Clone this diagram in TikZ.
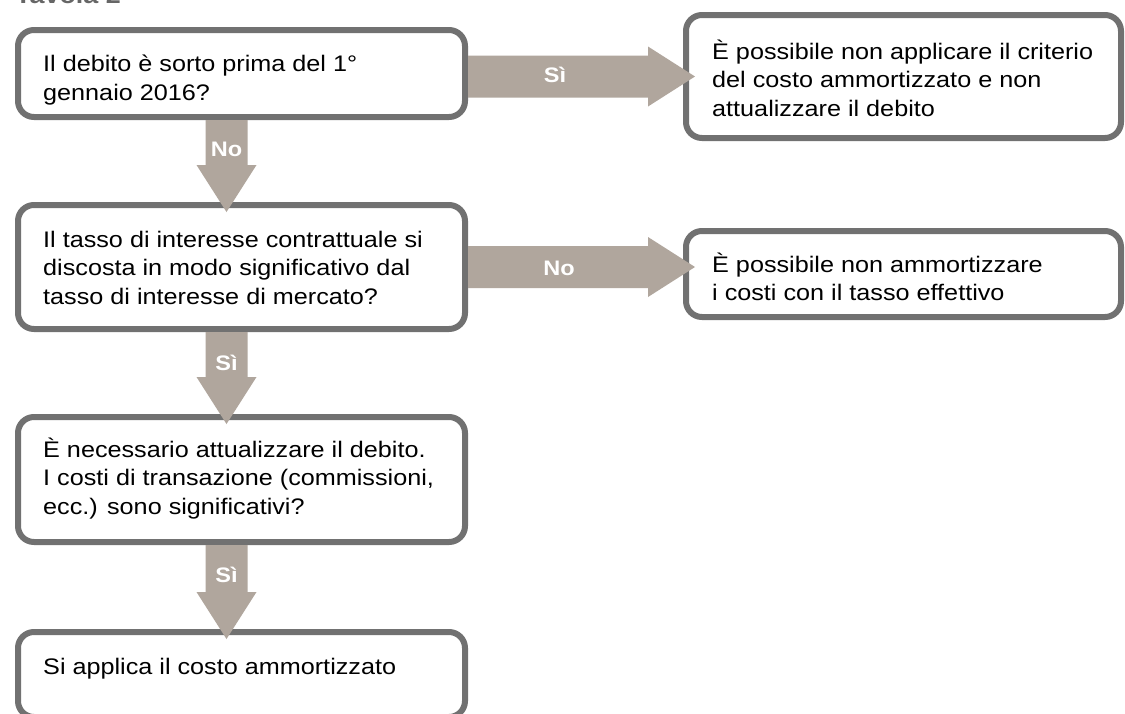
\documentclass[tikz,border=0pt]{standalone}
\usepackage{fontspec}
\setmainfont{Liberation Sans}[FakeStretch=1.12]
\usetikzlibrary{calc}

\definecolor{framegray}{HTML}{717171}
\definecolor{arrowtaupe}{HTML}{B0A69D}
\definecolor{titlegray}{HTML}{666666}

\tikzset{
  box/.style={draw=framegray, line width=6pt, rounded corners=16pt, fill=white,
    inner sep=0pt, minimum width=447pt},
  % texts are placed by the baseline of their last line
  boxtext/.style={anchor=base west, inner sep=0pt, align=left, text=black,
    font=\fontsize{22.5}{28.5}\selectfont},
  flowlabel/.style={anchor=base, inner sep=0pt, text=white,
    font=\bfseries\fontsize{21}{24}\selectfont},
  blockfill/.style={fill=arrowtaupe},
}

% broad downward arrow: from (#1) to the tip (#2)
\newcommand{\vblockarrow}[2]{%
  \fill[blockfill] let \p1=(#1), \p2=(#2) in
    (\x1-21pt,\y1) -- (\x1-21pt,\y2+47pt) -- (\x1-30pt,\y2+47pt) -- (\x1,\y2)
    -- (\x1+30pt,\y2+47pt) -- (\x1+21pt,\y2+47pt) -- (\x1+21pt,\y1) -- cycle;}
% broad rightward arrow: from (#1) to the tip (#2)
\newcommand{\hblockarrow}[2]{%
  \fill[blockfill] let \p1=(#1), \p2=(#2) in
    (\x1,\y1+21pt) -- (\x2-47pt,\y1+21pt) -- (\x2-47pt,\y1+30pt) -- (\x2,\y1)
    -- (\x2-47pt,\y1-30pt) -- (\x2-47pt,\y1-21pt) -- (\x1,\y1-21pt) -- cycle;}

\begin{document}
\begin{tikzpicture}[x=1pt, y=-1pt]
  \clip (0,0) rectangle (1125,713);
  \fill[white] (0,0) rectangle (1125,713);

  \node[anchor=base west, inner sep=0pt, text=titlegray,
        font=\bfseries\fontsize{24}{28}\selectfont] (title) at (15,3.5) {Tavola 2};

  % boxes of the left column
  \node[box, minimum height=87pt]  (b1) at (241.5,73.5) {};
  \node[box, minimum height=124pt] (b2) at (241.5,267) {};
  \node[box, minimum height=125pt] (b3) at (241.5,479.5) {};
  \node[box, minimum height=85pt]  (b4) at (241.5,674.5) {};
  % boxes on the right
  \node[box, minimum width=435pt, minimum height=123pt] (r1) at (903.5,76.5) {};
  \node[box, minimum width=435pt, minimum height=86pt]  (r2) at (903.5,274) {};

  % texts
  \node[boxtext] (t1) at (43,100)   {Il debito è sorto prima del 1°\\gennaio 2016?};
  \node[boxtext] (t2) at (43,304)   {Il tasso di interesse contrattuale si\\discosta in modo significativo dal\\tasso di interesse di mercato?};
  \node[boxtext] (t3) at (43,514)   {È necessario attualizzare il debito.\\I costi di transazione (commissioni,\\ecc.) sono significativi?};
  \node[boxtext] (t4) at (43,674)   {Si applica il costo ammortizzato};
  \node[boxtext] (s1) at (712,116)  {È possibile non applicare il criterio\\del costo ammortizzato e non\\attualizzare il debito};
  \node[boxtext] (s2) at (712,300.5) {È possibile non ammortizzare\\i costi con il tasso effettivo};

  % connectors
  \vblockarrow{[xshift=-15pt]b1.south}{[xshift=-15pt,yshift=-10pt]b2.north}
  \vblockarrow{[xshift=-15pt]b2.south}{[xshift=-15pt,yshift=-10pt]b3.north}
  \vblockarrow{[xshift=-15pt]b3.south}{[xshift=-15pt,yshift=-10pt]b4.north}
  \hblockarrow{b1.east |- r1.west}{[xshift=12pt]r1.west}
  \hblockarrow{b2.east}{[xshift=12pt]r2.west |- b2.east}

  % connector labels
  \node[flowlabel] (l1) at ([xshift=-15pt,yshift=-36pt]b1.south) {No};
  \node[flowlabel] (l2) at ([xshift=-15pt,yshift=-38pt]b2.south) {Sì};
  \node[flowlabel] (l3) at ([xshift=-15pt,yshift=-37pt]b3.south) {Sì};
  \node[flowlabel] (l4) at (555,82)  {Sì};
  \node[flowlabel] (l5) at (559,275) {No};
\end{tikzpicture}
\end{document}
